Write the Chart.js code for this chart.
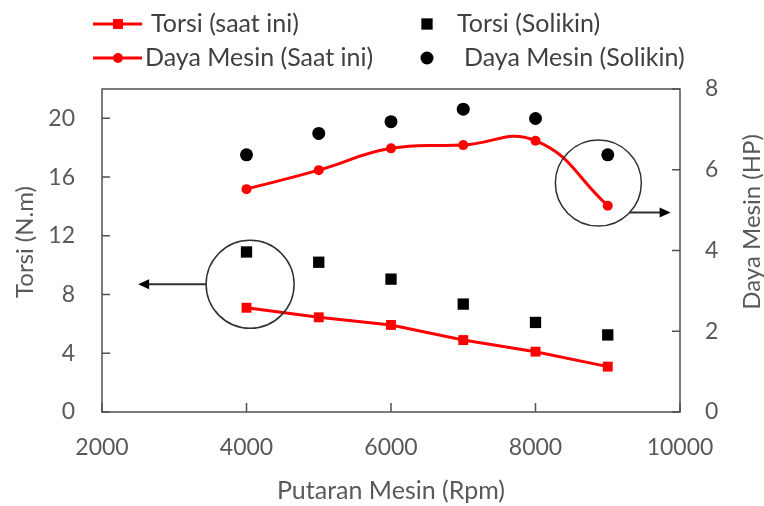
<!DOCTYPE html>
<html>
<head>
<meta charset="utf-8">
<script src="https://cdn.jsdelivr.net/npm/chart.js@4.4.1/dist/chart.umd.min.js"></script>
<style>
  html, body { margin: 0; padding: 0; background: #fff; }
  #wrap { width: 764px; height: 506px; }
</style>
</head>
<body>
<div id="wrap"><canvas id="myChart" width="764" height="506"></canvas></div>
<script>
// Data
const rpm = [4000, 5000, 6000, 7000, 8000, 9000];
const torsiSaatIni = [7.1, 6.45, 5.93, 4.9, 4.11, 3.09];
const torsiSolikin = [10.9, 10.2, 9.05, 7.35, 6.1, 5.25];
const dayaSaatIni = [5.52, 5.99, 6.53, 6.61, 6.72, 5.11];
const dayaSolikin = [6.37, 6.9, 7.19, 7.5, 7.27, 6.37];

const xTicks = [2000, 4000, 6000, 8000, 10000];
const torsiTicks = [0, 4, 8, 12, 16, 20];
const dayaTicks = [0, 2, 4, 6, 8];

const FONT = 'Lato, "Open Sans", sans-serif';
const GRAY = '#595959';
const RED = '#ff0000';

const pts = (ys) => rpm.map((x, i) => ({ x: x, y: ys[i] }));

// Legenda 2 kolom
const legendItems = [
  { ds: 0, x: 93, y: 24, textX: 151 },
  { ds: 1, x: 427, y: 24, textX: 457 },
  { ds: 2, x: 93, y: 58, textX: 145 },
  { ds: 3, x: 427, y: 58, textX: 464 }
];

function drawMarker(ctx, style, r, x, y, color) {
  ctx.fillStyle = color;
  ctx.beginPath();
  if (style === 'rect') {
    const s = r * Math.SQRT1_2;
    ctx.rect(x - s, y - s, 2 * s, 2 * s);
  } else {
    ctx.arc(x, y, r, 0, Math.PI * 2);
  }
  ctx.fill();
}

function arrow(ctx, x1, y1, x2, y2) {
  const dir = Math.sign(x2 - x1);
  ctx.beginPath();
  ctx.moveTo(x1, y1);
  ctx.lineTo(x2 - dir * 8, y2);
  ctx.stroke();
  ctx.beginPath();
  ctx.moveTo(x2, y2);
  ctx.lineTo(x2 - dir * 11, y2 - 5);
  ctx.lineTo(x2 - dir * 11, y2 + 5);
  ctx.closePath();
  ctx.fill();
}

function vText(ctx, text, x, y, angle) {
  ctx.save();
  ctx.translate(x, y);
  ctx.rotate(angle);
  ctx.textAlign = 'center';
  ctx.textBaseline = 'middle';
  ctx.fillText(text, 0, 0);
  ctx.restore();
}

const framePlugin = {
  id: 'frame',
  beforeDatasetsDraw(chart) {
    const { ctx, chartArea: a, scales } = chart;
    ctx.save();
    ctx.strokeStyle = '#505050';
    ctx.lineWidth = 1.5;
    ctx.strokeRect(a.left, a.top, a.right - a.left, a.bottom - a.top);
    // tick ke dalam
    ctx.beginPath();
    torsiTicks.forEach(v => {
      const y = scales.y.getPixelForValue(v);
      ctx.moveTo(a.left, y); ctx.lineTo(a.left + 8, y);
    });
    dayaTicks.forEach(v => {
      const y = scales.y1.getPixelForValue(v);
      ctx.moveTo(a.right, y); ctx.lineTo(a.right - 8, y);
    });
    xTicks.forEach(v => {
      const x = scales.x.getPixelForValue(v);
      ctx.moveTo(x, a.bottom); ctx.lineTo(x, a.bottom - 9);
    });
    ctx.stroke();

    // judul sumbu y
    ctx.fillStyle = GRAY;
    ctx.font = '24px ' + FONT;
    vText(ctx, 'Torsi (N.m)', 25, 242, -Math.PI / 2);
    vText(ctx, 'Daya Mesin (HP)', 752, 222, -Math.PI / 2);
    ctx.restore();
  },
  afterDatasetsDraw(chart) {
    const { ctx, scales } = chart;
    ctx.save();
    ctx.strokeStyle = '#303030';
    ctx.fillStyle = '#000';
    ctx.lineWidth = 1.5;
    // lingkaran kiri -> sumbu Torsi
    const cx1 = scales.x.getPixelForValue(4050), cy1 = scales.y.getPixelForValue(8.7), r = 44;
    ctx.beginPath(); ctx.arc(cx1, cy1, r, 0, Math.PI * 2); ctx.stroke();
    ctx.lineWidth = 2;
    arrow(ctx, cx1 - r, cy1, scales.x.getPixelForValue(2500), cy1);
    // lingkaran kanan -> sumbu Daya
    ctx.lineWidth = 1.5;
    const cx2 = scales.x.getPixelForValue(8870), cy2 = scales.y1.getPixelForValue(5.67);
    ctx.beginPath(); ctx.arc(cx2, cy2, 43, 0, Math.PI * 2); ctx.stroke();
    const ay = scales.y1.getPixelForValue(4.94);
    const dy = ay - cy2;
    const ax = cx2 + Math.sqrt(Math.max(0, 43 * 43 - dy * dy));
    ctx.lineWidth = 2;
    arrow(ctx, ax, ay, scales.x.getPixelForValue(9870), ay);
    ctx.restore();

    // legenda
    ctx.save();
    ctx.font = '25px ' + FONT;
    ctx.textBaseline = 'middle';
    legendItems.forEach(it => {
      const ds = chart.data.datasets[it.ds];
      if (ds.showLine !== false) {
        ctx.strokeStyle = ds.borderColor;
        ctx.lineWidth = 3;
        ctx.beginPath(); ctx.moveTo(it.x, it.y); ctx.lineTo(it.x + 49, it.y); ctx.stroke();
        drawMarker(ctx, ds.pointStyle, ds.pointRadius, it.x + 25, it.y, ds.pointBackgroundColor);
      } else {
        drawMarker(ctx, ds.pointStyle, ds.pointRadius, it.x, it.y, ds.pointBackgroundColor);
      }
      ctx.fillStyle = '#404040';
      ctx.fillText(ds.label, it.textX, it.y);
    });
    ctx.restore();
  }
};

const tickFont = { family: FONT, size: 23 };

new Chart(document.getElementById('myChart'), {
  type: 'line',
  data: {
    datasets: [
      {
        label: 'Torsi (saat ini)', data: pts(torsiSaatIni), yAxisID: 'y',
        borderColor: RED, backgroundColor: RED, borderWidth: 3, tension: 0,
        pointStyle: 'rect', pointRadius: 7, pointBackgroundColor: RED, pointBorderWidth: 0
      },
      {
        label: 'Torsi (Solikin)', data: pts(torsiSolikin), yAxisID: 'y', showLine: false,
        borderColor: '#000', backgroundColor: '#000',
        pointStyle: 'rect', pointRadius: 8, pointBackgroundColor: '#000', pointBorderWidth: 0
      },
      {
        label: 'Daya Mesin (Saat ini)', data: pts(dayaSaatIni), yAxisID: 'y1',
        borderColor: RED, backgroundColor: RED, borderWidth: 3, tension: 0.45,
        pointStyle: 'circle', pointRadius: 5, pointBackgroundColor: RED, pointBorderWidth: 0
      },
      {
        label: 'Daya Mesin (Solikin)', data: pts(dayaSolikin), yAxisID: 'y1', showLine: false,
        borderColor: '#000', backgroundColor: '#000',
        pointStyle: 'circle', pointRadius: 6.5, pointBackgroundColor: '#000', pointBorderWidth: 0
      }
    ]
  },
  options: {
    responsive: false,
    animation: false,
    devicePixelRatio: 1,
    layout: { padding: { top: 89, left: 0, right: 0, bottom: 0 } },
    plugins: { legend: { display: false }, tooltip: { enabled: false } },
    scales: {
      x: {
        type: 'linear', min: 2000, max: 10000,
        afterBuildTicks: s => { s.ticks = xTicks.map(v => ({ value: v })); },
        afterFit: s => { s.height = 94; },
        grid: { display: false, drawTicks: false },
        border: { display: false },
        ticks: { color: GRAY, font: tickFont, padding: 22, maxRotation: 0, callback: v => String(v) },
        title: { display: true, text: 'Putaran Mesin (Rpm)', color: GRAY, font: { family: FONT, size: 25 }, padding: { top: 0, bottom: 0 } }
      },
      y: {
        position: 'left', min: 0, max: 22,
        afterBuildTicks: s => { s.ticks = torsiTicks.map(v => ({ value: v })); },
        afterFit: s => { s.width = 102; },
        grid: { display: false, drawTicks: false },
        border: { display: false },
        ticks: { color: GRAY, font: tickFont, padding: 27, callback: v => String(v) }
      },
      y1: {
        position: 'right', min: 0, max: 8,
        afterBuildTicks: s => { s.ticks = dayaTicks.map(v => ({ value: v })); },
        afterFit: s => { s.width = 84; },
        grid: { display: false, drawTicks: false },
        border: { display: false },
        ticks: { color: GRAY, font: tickFont, padding: 25, callback: v => String(v) }
      }
    }
  },
  plugins: [framePlugin]
});
</script>
</body>
</html>
